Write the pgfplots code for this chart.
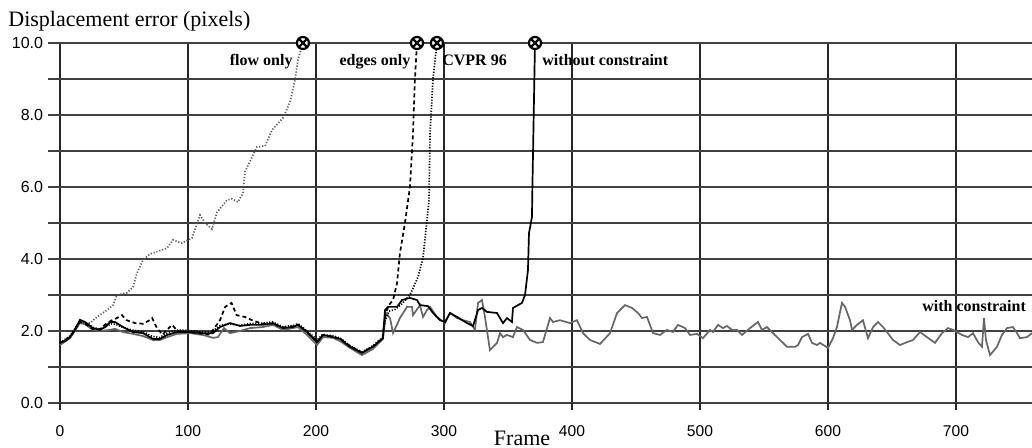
\documentclass[border=0pt]{standalone}
\usepackage{fontspec}
\setmainfont{Liberation Serif}
\newfontfamily\sansf{Liberation Sans}
\usepackage{pgfplots}
\pgfplotsset{compat=1.18}
\usetikzlibrary{plotmarks}
\definecolor{gline}{HTML}{666666}
\definecolor{gdot}{HTML}{5A5A5A}
\begin{document}
\begin{tikzpicture}
\begin{axis}[name=ax, at={(0,0)}, anchor=south west,
 scale only axis, width=486pt, height=180pt,
 xmin=0, xmax=759.4, ymin=0, ymax=10,
 axis line style={draw=none},
 xtick={0,100,200,300,400,500,600,700},
 xticklabels={0,100,200,300,400,500,600,700},
 ytick={0,1,2,3,4,5,6,7,8,9,10},
 yticklabels={0.0,,2.0,,4.0,,6.0,,8.0,,10.0},
 major tick length=0pt,
 grid=major,
 x grid style={black!85, line width=0.55pt},
 y grid style={black!75, line width=0.8pt},
 xticklabel style={font=\sansf\fontsize{7.8}{9}\selectfont, anchor=north, inner sep=0pt, yshift=-11pt},
 yticklabel style={font=\sansf\fontsize{8}{9}\selectfont, anchor=east, inner sep=0pt, xshift=-8.3pt},
 clip=false,
]
\pgfplotsinvokeforeach{0,1,2,3,4,5,6,7,8,9,10}{\draw[black!75, line width=0.8pt] (axis cs:0,#1) -- ++(-6pt,0);}
\pgfplotsinvokeforeach{0,100,200,300,400,500,600,700}{\draw[black!85, line width=0.55pt] (axis cs:#1,0) -- ++(0,-3.5pt);}

% with constraint
\addplot[gline, line width=0.85pt] coordinates {
(0,1.61)(7.8,1.8)(15.6,2.22)(19.5,2.19)(25.8,2.03)(31.3,2.0)(39.1,2.03)(43,2.06)(49.2,1.97)(57,1.92)(64.8,1.86)(72.7,1.75)(78.1,1.75)(83.6,1.83)(91.4,1.92)(101.6,1.94)(111.7,1.89)(119.5,1.81)(123.4,1.83)(128.1,2.08)(132.8,1.94)(140.6,2.0)(148.4,2.08)(158.6,2.11)(166.4,2.17)(174.2,2.03)(182,2.08)(185.9,2.11)(193,1.89)(200.8,1.61)(205.5,1.83)(213.3,1.81)(218.75,1.72)(226.6,1.53)(235.9,1.33)(244.5,1.5)(252.3,1.78)(254.7,2.5)(257.8,2.36)(260.2,1.94)(265.6,2.36)(271.1,2.67)(275,2.67)(275.8,2.44)(281.25,2.72)(283.6,2.39)(286.7,2.58)(289.1,2.67)(294.5,2.39)(300.8,2.22)(304.7,2.5)(310.2,2.36)(314.8,2.3)(320.3,2.25)(324.2,2.03)(326.6,2.78)(329.7,2.86)(332,2.39)(335.9,1.47)(341.4,1.67)(343.75,1.94)(346.1,1.83)(349.2,1.89)(353.9,1.83)(357,2.11)(361.7,2.03)(367.2,1.75)(372.7,1.67)(377.3,1.69)(382.8,2.36)(385.2,2.25)(390.6,2.3)(398.4,2.22)(403.9,2.3)(408.6,1.94)(414.1,1.75)(421.9,1.64)(429.7,1.94)(435.2,2.5)(441.4,2.72)(446.9,2.64)(451.6,2.5)(454.7,2.36)(458.6,2.39)(463.3,1.94)(468.75,1.89)(474.2,2.03)(478.9,1.97)(482.8,2.17)(488.3,2.08)(492.2,1.89)(497.7,1.92)(502.3,1.8)(507.8,2.03)(510.2,1.97)(514.1,2.17)(518,2.08)(521.1,2.14)(525,2.03)(528.9,2.03)(532.8,1.89)(539.1,2.08)(545.3,2.25)(548.4,2.03)(552.3,2.11)(556.25,1.97)(562.5,1.75)(568,1.56)(574.2,1.56)(576.6,1.61)(579.7,1.83)(584.4,1.92)(587.5,1.67)(591.4,1.61)(593.75,1.67)(600,1.53)(603.9,1.8)(607,2.11)(610.9,2.78)(613.3,2.67)(617.2,2.3)(618.75,2.03)(622.7,2.17)(627.3,2.3)(631.25,1.8)(635.2,2.11)(639.1,2.25)(643,2.11)(646.1,1.97)(650.8,1.75)(656.25,1.61)(661.7,1.69)(666.4,1.75)(671.9,1.97)(677.3,1.83)(683.6,1.67)(689.1,1.94)(693.75,2.08)(697.7,2.03)(704.7,1.89)(709.4,1.83)(713.3,1.94)(717.2,1.69)(720.3,1.56)(721.9,2.36)(723.4,1.75)(726.6,1.33)(732,1.56)(735.9,1.89)(739.8,2.08)(744.5,2.11)(747.7,1.94)(750,1.8)(755.5,1.83)(759.4,1.94)
};
% flow only
\addplot[gdot, line width=0.85pt, dash pattern=on 0.6pt off 0.9pt] coordinates {
(0,1.67)(3.9,1.74)(7.8,1.85)(11.7,2.05)(15.6,2.27)(19.5,2.22)(23.4,2.22)(28.9,2.39)(36.7,2.58)(41.4,2.72)(44.5,3.0)(52.3,3.06)(57,3.22)(60.2,3.61)(64.8,3.97)(70.3,4.14)(77,4.22)(83.6,4.3)(88.3,4.53)(95.3,4.44)(103.1,4.58)(109.4,5.22)(113.3,5.0)(118.75,4.83)(122.7,5.3)(130.5,5.64)(134.4,5.67)(139,5.58)(143,5.83)(144.5,6.42)(150.8,6.89)(153.9,7.11)(160.2,7.14)(165.6,7.58)(174.2,7.92)(179.7,8.36)(183.6,8.97)(185.9,9.53)(189.8,10)
};
% CVPR 96
\addplot[black, line width=0.85pt, dash pattern=on 0.6pt off 0.8pt] coordinates {
(0,1.67)(7.8,1.86)(15.6,2.28)(19.5,2.25)(25.8,2.1)(31,2.05)(36,2.12)(40,2.2)(44,2.18)(49,2.1)(57,2.02)(65,1.98)(72,1.85)(78,1.82)(84,1.95)(91,2.02)(100,2.02)(110,1.98)(118,1.96)(125,2.15)(132,2.2)(140,2.16)(148,2.2)(158,2.22)(166,2.25)(174,2.12)(182,2.15)(186,2.2)(193,2.0)(201,1.75)(205,1.9)(213,1.87)(219,1.8)(227,1.58)(236,1.42)(244,1.58)(252,1.82)(254,2.3)(257,2.55)(262,2.6)(267,2.75)(273.4,3.0)(279.7,3.5)(283.6,4.03)(286.7,5.08)(288.3,5.64)(289.1,7.5)(291.4,9.0)(294.5,10)
};
% edges only
\addplot[black, line width=0.85pt, dash pattern=on 2pt off 1.5pt] coordinates {
(0,1.67)(7.8,1.83)(15.6,2.25)(19.5,2.2)(25.8,2.05)(31,2.05)(36,2.2)(40.6,2.3)(44,2.35)(48.4,2.44)(52,2.3)(58.6,2.22)(65,2.2)(70,2.3)(72,2.36)(75.8,2.08)(80,1.9)(87.5,2.17)(92,2.0)(101,1.97)(111,1.92)(117,1.9)(121,2.1)(125,2.3)(129,2.67)(134,2.78)(138,2.44)(144.5,2.39)(150,2.3)(158,2.2)(166,2.2)(174,2.1)(182,2.13)(186,2.18)(193,1.97)(201,1.7)(205,1.88)(213,1.85)(219,1.78)(227,1.57)(236,1.4)(244,1.56)(252,1.8)(254,2.45)(257,2.72)(260.2,2.86)(263.3,3.33)(265.6,4.17)(269.5,5.0)(273.4,6.0)(275.8,7.5)(277.3,9.0)(278.9,10)
};
% without constraint
\addplot[black, line width=0.85pt] coordinates {
(0,1.67)(3.9,1.72)(7.8,1.83)(11.7,2.03)(15.6,2.31)(19.5,2.25)(25.8,2.08)(31.3,2.03)(35.2,2.11)(39.1,2.25)(43,2.25)(49.2,2.11)(57,1.97)(64.8,1.94)(72.7,1.78)(78.1,1.78)(83.6,1.89)(91.4,1.97)(101.6,1.97)(111.7,1.94)(119.5,1.94)(125,2.11)(132.8,2.22)(140.6,2.14)(148.4,2.17)(158.6,2.17)(166.4,2.22)(174.2,2.08)(182,2.11)(185.9,2.17)(193,1.97)(200.8,1.69)(205.5,1.89)(213.3,1.83)(218.75,1.78)(226.6,1.56)(235.9,1.39)(244.5,1.56)(252.3,1.8)(253.9,2.58)(256.25,2.67)(263.3,2.67)(267.2,2.86)(273.4,2.92)(278.9,2.86)(281.25,2.72)(287.5,2.69)(291.4,2.5)(296.9,2.3)(300.8,2.25)(304.7,2.5)(310.2,2.39)(318,2.22)(322.7,2.14)(326.6,2.58)(329.7,2.64)(333.6,2.53)(341.4,2.5)(346.1,2.22)(349.2,2.36)(353.1,2.25)(353.9,2.64)(360.9,2.78)(363.3,3.0)(365.6,3.69)(366.4,4.72)(368.75,5.17)(368.9,5.64)(370.3,8.42)(371.1,10)
};
% failure markers
\addplot[only marks, mark=otimes*, mark size=3pt, mark options={fill=white, draw=black, line width=1.1pt, solid}] coordinates {
(189.8,10)(278.9,10)(294.5,10)(371.1,10)
};

\begin{scope}[every node/.style={font=\bfseries\fontsize{8}{10}\selectfont, inner sep=0pt}]
\node[anchor=base east] at (axis cs:182,9.37) {flow only};
\node[anchor=base east] at (axis cs:274,9.37) {edges only};
\node[anchor=base west] at (axis cs:298.4,9.37) {CVPR 96};
\node[anchor=base west] at (axis cs:376.6,9.37) {without constraint};
\node[anchor=base west] at (axis cs:673.4,2.54) {with constraint};
\end{scope}
\node[anchor=base west, inner sep=0pt, font=\fontsize{11}{13}\selectfont] at (axis cs:-40.6,10.45) {Displacement error (pixels)};
\node[anchor=base, inner sep=0pt, font=\fontsize{11}{13}\selectfont] at (axis cs:361,-1.19) {Frame};
\end{axis}
\pgfresetboundingbox
\path ([shift={(-30pt,-22.5pt)}]ax.south west) rectangle ([shift={(486pt,201.5pt)}]ax.south west);
\end{tikzpicture}
\end{document}
